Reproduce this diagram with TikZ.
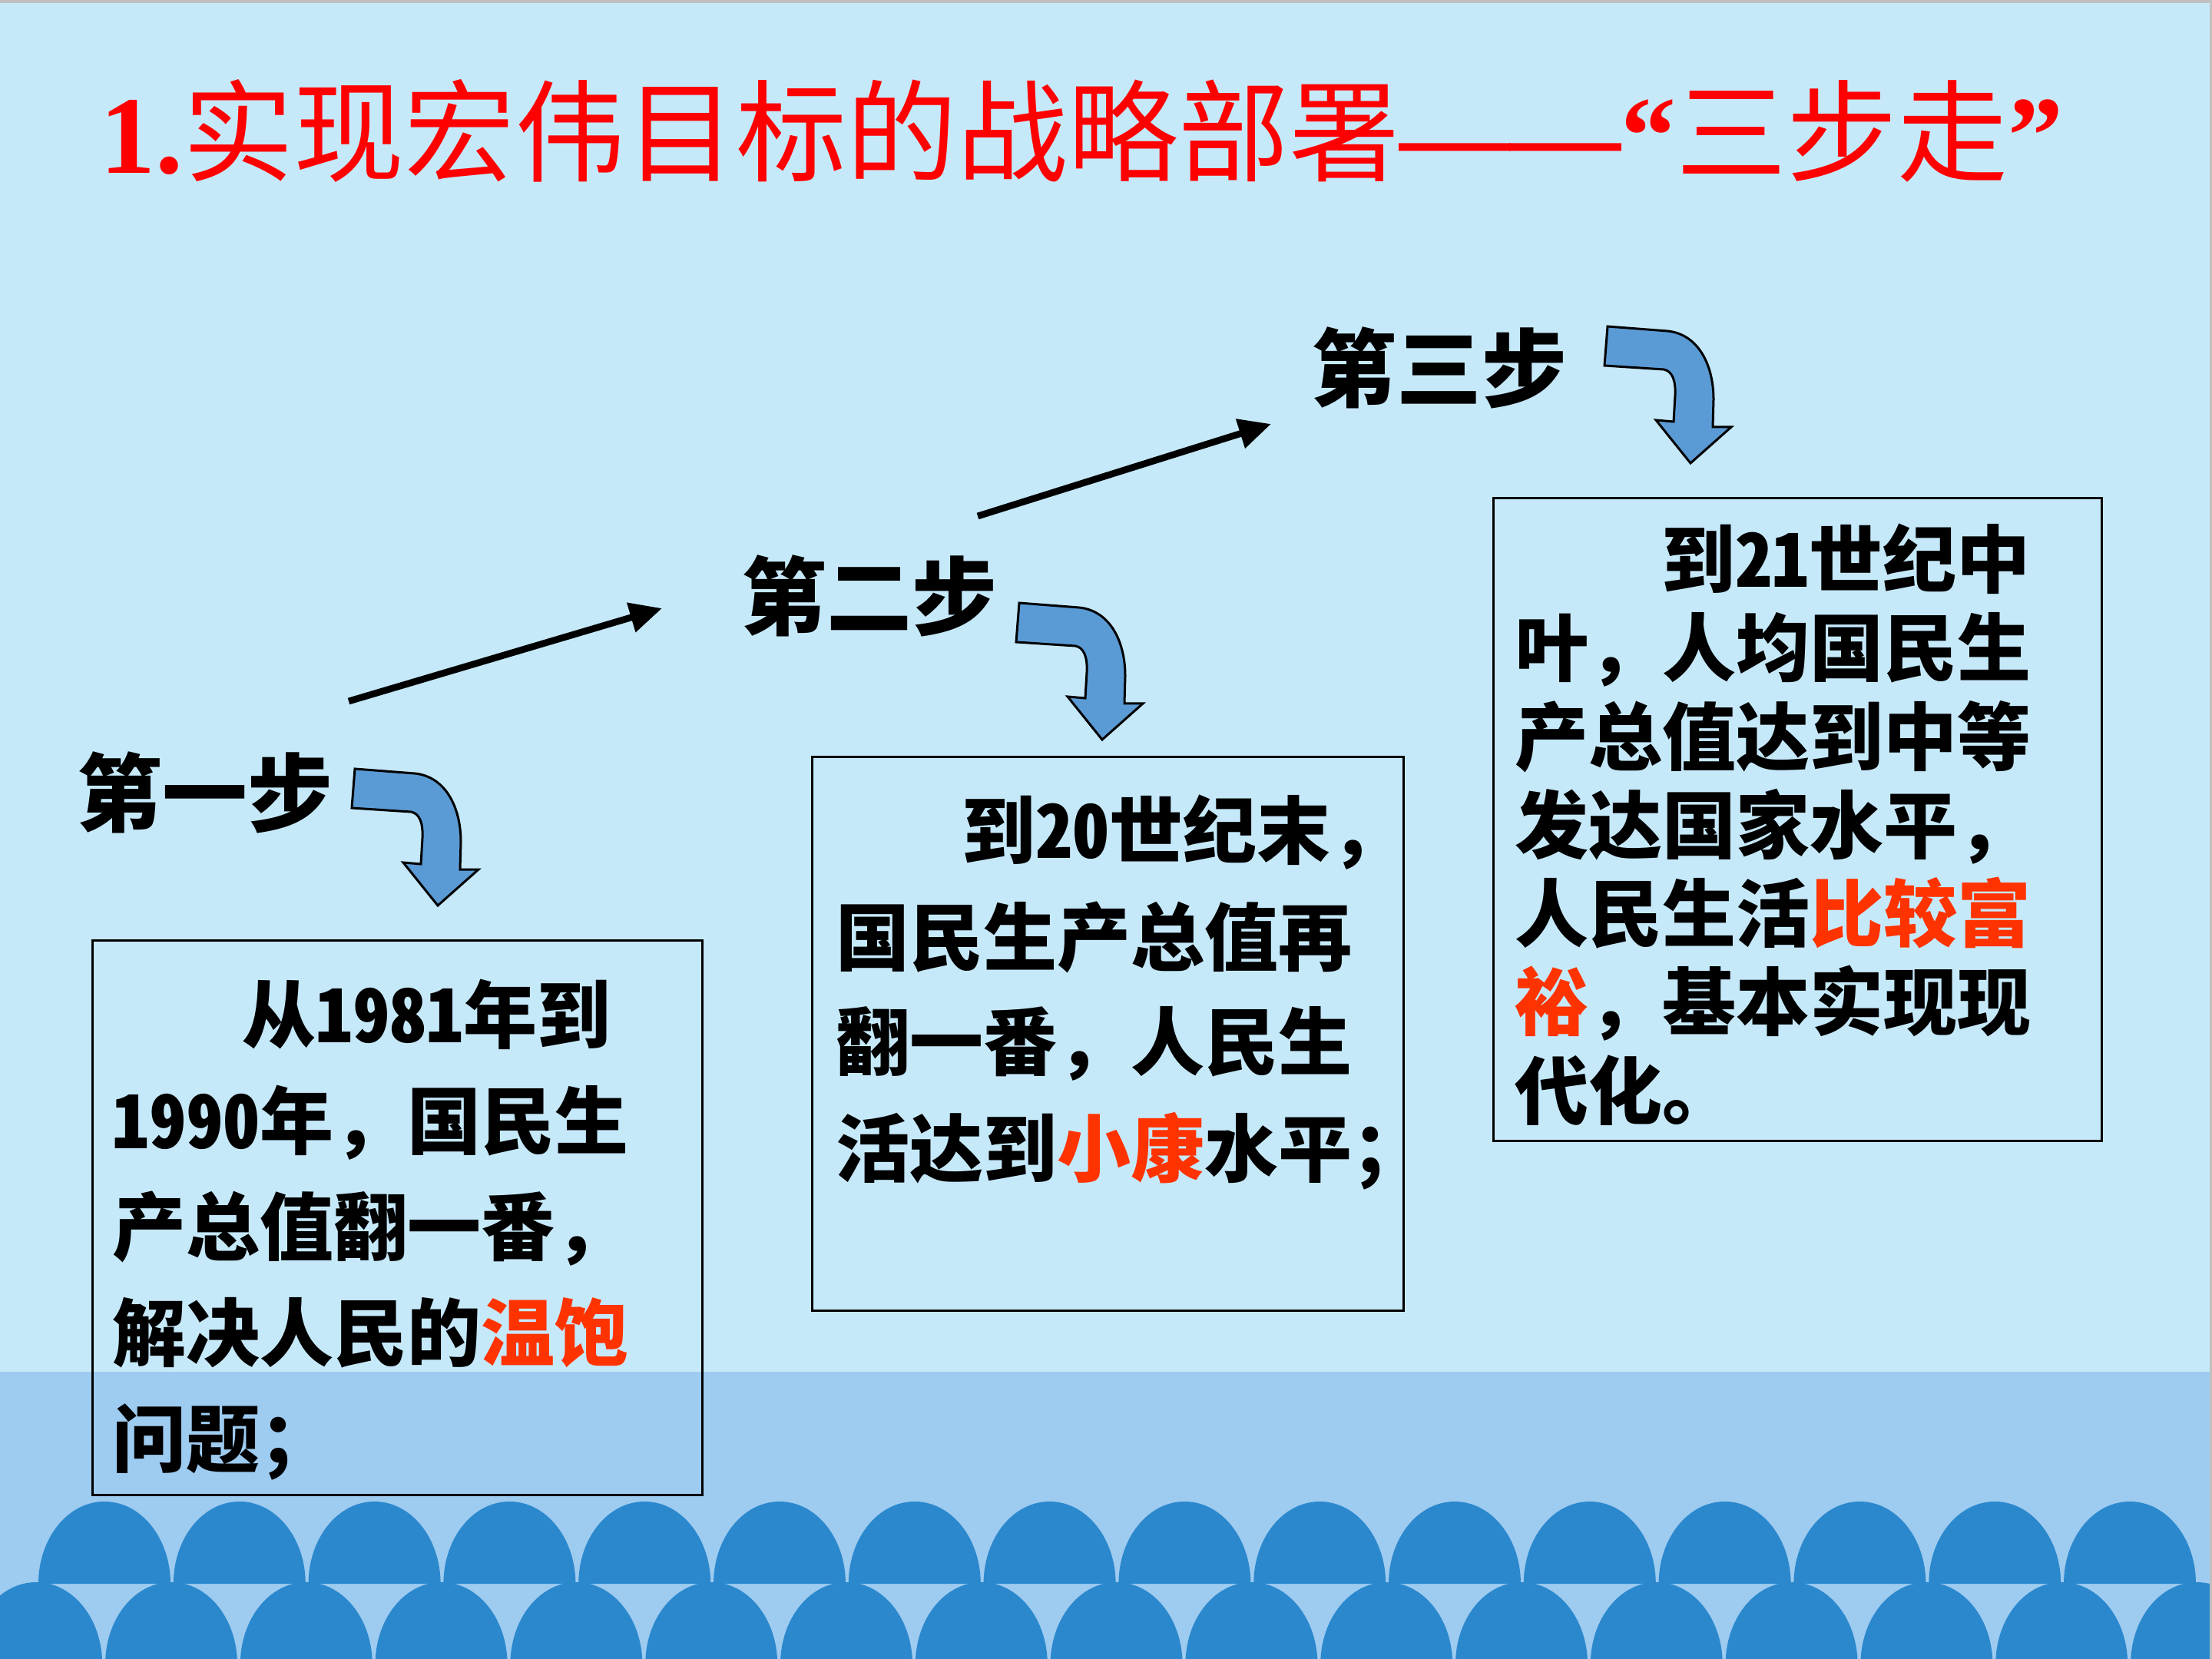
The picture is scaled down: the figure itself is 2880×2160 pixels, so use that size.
\documentclass[tikz,border=0pt]{standalone}
\usepackage{fontspec}
\usepackage{graphicx}
\usetikzlibrary{arrows.meta}
\newfontfamily\cjk{Noto Sans CJK SC}
\newfontfamily\cjkhw{Noto Sans CJK SC}[RawFeature=+hwid]
\newfontfamily\tmr{Liberation Serif}
\definecolor{bgtop}{RGB}{198,233,250}
\definecolor{bgband}{RGB}{158,203,240}
\definecolor{wavec}{RGB}{43,136,205}
\definecolor{arrowfill}{RGB}{91,155,213}
\definecolor{titlered}{RGB}{255,0,0}
\definecolor{hired}{RGB}{255,51,0}
\definecolor{edgegray}{RGB}{192,192,192}
\newcommand\dg[1]{{\cjkhw\bfseries #1}}
\tikzset{
  boxframe/.style={draw=black, line width=0.75pt, anchor=north west, inner sep=0pt},
  txtline/.style={anchor=base west, inner sep=0pt, font=\cjk\bfseries\fontsize{24pt}{24pt}\selectfont},
  steplabel/.style={anchor=base west, inner sep=0pt, font=\cjk\bfseries\fontsize{27.7pt}{28pt}\selectfont},
  linkarrow/.style={line width=2.2pt, -{Triangle[length=10.5pt,width=9.5pt]}},
  bendarrow/.pic={
    \filldraw[fill=arrowfill, draw=black, line width=0.75pt, line join=miter]
      (0,0) -- (78,6) .. controls (118,10) and (138,50) .. (138,95)
      -- (137,131) -- (161,131) -- (108,178) -- (63,122) -- (86,124)
      -- (88,90) .. controls (89,70) and (84,58) .. (73,56) -- (-4,51) -- cycle;
  },
  wave/.pic={
    \fill[wavec] (0,0) .. controls (0,-59) and (38,-107) .. (86,-107)
      .. controls (134,-107) and (172,-59) .. (172,0) -- cycle;
  }
}
\begin{document}
\begin{tikzpicture}[x=0.25pt,y=-0.25pt]
\useasboundingbox (0,0) rectangle (2880,2160);
% background
\fill[bgtop] (0,0) rectangle (2880,2160);
\fill[bgband] (0,1786) rectangle (2880,2160);
\foreach \k in {0,...,15} \pic at ({50+175.8*\k},2062) {wave};
\foreach \k in {-1,...,15} \pic at ({137+175.8*\k},2167) {wave};
\fill[edgegray] (0,0) rectangle (2880,4);
\fill[edgegray] (2877,0) rectangle (2880,2160);

% title
\node[anchor=base west, inner sep=0pt, text=titlered, font=\fontsize{36pt}{36pt}\selectfont] (title) at (130,226)
  {{\tmr\bfseries 1.}{\cjk 实现宏伟目标的战略部署}{\tmr\bfseries ——“}{\cjk 三步走}{\tmr\bfseries ”}};

% step labels
\node[steplabel] (s1) at (100,1074) {第一步};
\node[steplabel] (s2) at (965,818) {第二步};
\node[steplabel] (s3) at (1707,522) {第三步};

% straight arrows
\coordinate (a1s) at (454,913);
\coordinate (a1e) at (862,792);
\coordinate (a2s) at (1273,672);
\coordinate (a2e) at (1655,552);
\draw[linkarrow] (a1s) -- (a1e);
\draw[linkarrow] (a2s) -- (a2e);

% bent arrows
\pic (c1) at (462,1001) {bendarrow};
\pic (c2) at (1327,785) {bendarrow};
\pic (c3) at (2093,425) {bendarrow};

% boxes
\node[boxframe, minimum width=198.5pt, minimum height=180.5pt] (box1) at (119,1223) {};
\node[boxframe, minimum width=192.5pt, minimum height=180.25pt] (box2) at (1056,984) {};
\node[boxframe, minimum width=198pt, minimum height=209.25pt] (box3) at (1943,647) {};

% box 1 text
\node[txtline] (b1l1) at (315,1357) {从\dg{1981}年到};
\node[txtline] (b1l2) at (146,1495) {\dg{1990}年，国民生};
\node[txtline] (b1l3) at (146,1633) {产总值翻一番，};
\node[txtline] (b1l4) at (146,1771) {解决人民的{\color{hired}温饱}};
\node[txtline] (b1l5) at (146,1909) {问题；};

% box 2 text
\node[txtline] (b2l1) at (1252,1117) {到\dg{20}世纪末，};
\node[txtline] (b2l2) at (1088,1256) {国民生产总值再};
\node[txtline] (b2l3) at (1088,1392) {翻一番，人民生};
\node[txtline] (b2l4) at (1088,1531) {活达到{\color{hired}小康}水平；};

% box 3 text
\node[txtline] (b3l1) at (2163,765) {到\dg{21}世纪中};
\node[txtline] (b3l2) at (1972,880) {叶，人均国民生};
\node[txtline] (b3l3) at (1972,995) {产总值达到中等};
\node[txtline] (b3l4) at (1972,1110) {发达国家水平，};
\node[txtline] (b3l5) at (1972,1225) {人民生活{\color{hired}比较富}};
\node[txtline] (b3l6) at (1972,1340) {{\color{hired}裕}，基本实现现};
\node[txtline] (b3l7) at (1972,1456) {代化。};
\end{tikzpicture}
\end{document}
